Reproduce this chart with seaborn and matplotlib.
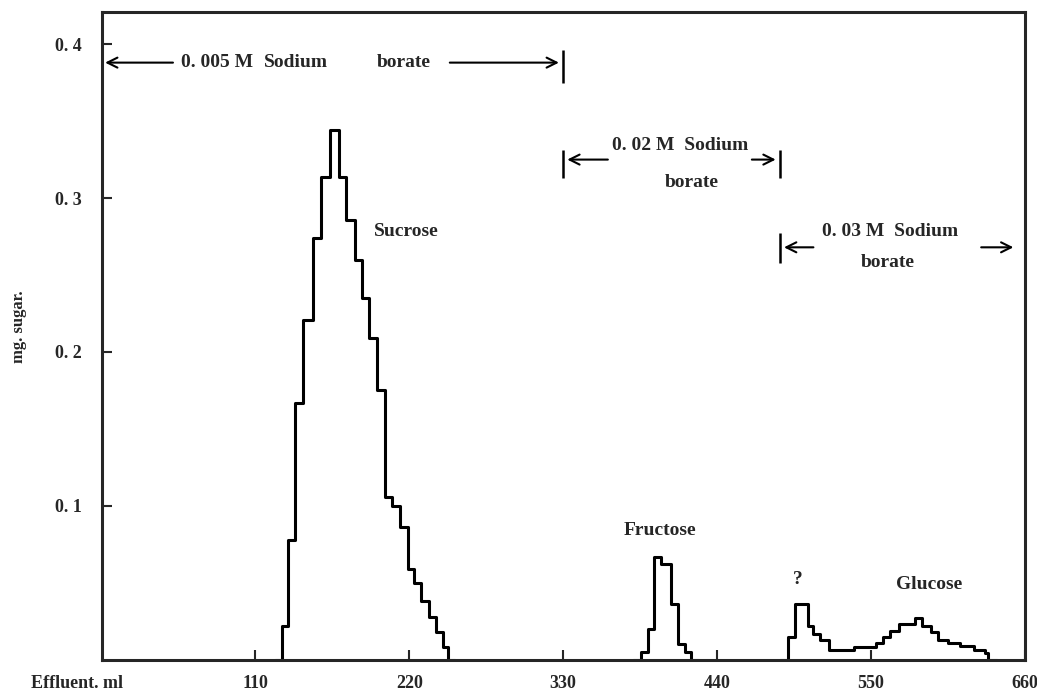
import matplotlib
matplotlib.use("Agg")
import matplotlib.pyplot as plt
import pandas as pd
import seaborn as sns

# Fraction boundaries (ml of effluent) and sugar per fraction (mg)
SUCROSE_EDGES = [124, 129, 133, 138, 144, 151, 157, 163, 169.5, 175, 181, 186.5, 191.5,
                 197, 203, 208, 213.5, 219, 223.5, 228.5, 234, 239, 244, 248, 253]
SUCROSE_MG = [0, 0.022, 0.078, 0.167, 0.221, 0.274, 0.314, 0.344, 0.314, 0.286, 0.260,
              0.235, 0.209, 0.175, 0.106, 0.100, 0.086, 0.059, 0.050, 0.038, 0.028,
              0.018, 0.008, 0]

FRUCTOSE_EDGES = [380, 386, 390.5, 395, 400, 407, 412, 417, 421.5, 427]
FRUCTOSE_MG = [0, 0.005, 0.020, 0.067, 0.062, 0.036, 0.010, 0.005, 0]

GLUCOSE_EDGES = [485, 491, 496, 505, 509, 514, 520, 538, 554, 559, 564, 570, 582, 587,
                 593, 598, 605, 614, 624, 632, 634, 640]
GLUCOSE_MG = [0, 0.0145, 0.036, 0.022, 0.0165, 0.013, 0.0066, 0.008, 0.011, 0.0145,
              0.019, 0.023, 0.027, 0.022, 0.018, 0.013, 0.011, 0.009, 0.0066, 0.0046, 0]

X_TICKS = [110, 220, 330, 440, 550, 660]
Y_TICKS = [0.1, 0.2, 0.3, 0.4]
Y_TICK_LABELS = ["0. 1", "0. 2", "0. 3", "0. 4"]

sns.set_style("ticks")
plt.rcParams["font.family"] = ["Liberation Serif", "DejaVu Serif"]
plt.rcParams["font.weight"] = "bold"

LW = 2.2
FS = 14      # annotation text
TICK_FS = 13


def step_hist(ax, edges, values):
    mids = [(a + b) / 2 for a, b in zip(edges[:-1], edges[1:])]
    df = pd.DataFrame({"ml": mids, "mg": values})
    sns.histplot(data=df, x="ml", weights="mg", bins=list(edges), element="step",
                 fill=False, color="black", linewidth=LW, ax=ax)


def label(ax, x, y, s, ha="center"):
    ax.text(x, y, s, ha=ha, va="center", fontsize=FS, fontweight="bold")


fig, ax = plt.subplots(figsize=(10.37, 6.96), dpi=100)
fig.subplots_adjust(left=0.098, right=0.988, bottom=0.052, top=0.983)

step_hist(ax, SUCROSE_EDGES, SUCROSE_MG)
step_hist(ax, FRUCTOSE_EDGES, FRUCTOSE_MG)
step_hist(ax, GLUCOSE_EDGES, GLUCOSE_MG)

ax.set_xlim(0, 657)
ax.set_ylim(0, 0.421)
ax.set_xticks(X_TICKS)
ax.set_xticklabels([str(t) for t in X_TICKS], fontsize=TICK_FS, fontweight="bold")
ax.set_yticks(Y_TICKS)
ax.set_yticklabels(Y_TICK_LABELS, fontsize=TICK_FS, fontweight="bold")
ax.tick_params(axis="both", direction="in", length=7, width=1.5)
ax.tick_params(axis="y", pad=14)
ax.tick_params(axis="x", pad=11)
ax.set_xlabel("")
ax.set_ylabel("")
for side in ax.spines.values():
    side.set_linewidth(LW)
    side.set_visible(True)

ax.text(-0.027, -0.037, "Effluent. ml", transform=ax.transAxes, ha="center",
        va="center", fontsize=TICK_FS, fontweight="bold")
fig.text(0.018, 0.53, "mg. sugar.", rotation=90, ha="center", va="center",
         fontsize=12, fontweight="bold")

arrow = dict(arrowstyle="->", color="black", lw=1.5, mutation_scale=18)

# 0.005 M bracket
ax.annotate("", xy=(0.5, 0.388), xytext=(53, 0.388), arrowprops=arrow)
label(ax, 57, 0.388, "0. 005 M", ha="left")
label(ax, 116, 0.388, "Sodium", ha="left")
label(ax, 197, 0.388, "borate", ha="left")
ax.annotate("", xy=(329, 0.388), xytext=(247, 0.388), arrowprops=arrow)
ax.vlines(330, 0.375, 0.396, color="black", lw=1.8)

# 0.02 M bracket
ax.annotate("", xy=(331, 0.325), xytext=(364, 0.325), arrowprops=arrow)
ax.annotate("", xy=(484, 0.325), xytext=(463, 0.325), arrowprops=arrow)
ax.vlines([330, 485], 0.313, 0.331, color="black", lw=1.8)
label(ax, 414, 0.334, "0. 02 M  Sodium")
label(ax, 422, 0.310, "borate")

# 0.03 M bracket
ax.annotate("", xy=(486, 0.268), xytext=(511, 0.268), arrowprops=arrow)
ax.annotate("", xy=(654, 0.268), xytext=(627, 0.268), arrowprops=arrow)
ax.vlines(485, 0.258, 0.277, color="black", lw=1.8)
label(ax, 564, 0.278, "0. 03 M  Sodium")
label(ax, 562, 0.258, "borate")

# peak labels
label(ax, 218, 0.278, "Sucrose")
label(ax, 399, 0.084, "Fructose")
label(ax, 498, 0.052, "?")
label(ax, 592, 0.049, "Glucose")

fig.savefig("out.png", dpi=100)
